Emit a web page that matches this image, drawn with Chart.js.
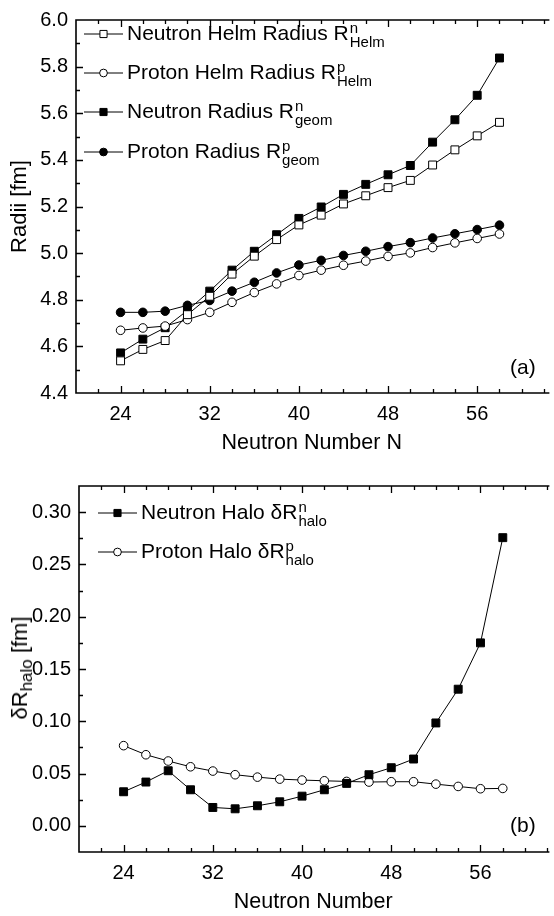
<!DOCTYPE html>
<html>
<head>
<meta charset="utf-8">
<script src="https://cdn.jsdelivr.net/npm/chart.js@4.4.1/dist/chart.umd.min.js"></script>
<style>
  html, body { margin: 0; padding: 0; background: #fff; }
  #wrap { position: relative; width: 554px; height: 916px; overflow: hidden;
          font-family: "Liberation Sans", Arial, sans-serif; color: #000; }
  canvas { position: absolute; left: 0; }
  #cA { top: 0; }
  #cB { top: 460px; }
  .lt { position: absolute; font-size: 21px; line-height: 24px; height: 24px; white-space: nowrap; }
  .ss { display: inline-flex; flex-direction: column; font-size: 15px; line-height: 14px;
        vertical-align: 7px; margin-left: 1px; }
  .yt { position: absolute; font-size: 22px; white-space: nowrap; transform: translate(-50%, -50%) rotate(-90deg); }
  .yt sub { font-size: 17px; vertical-align: -5px; }
  .tag { position: absolute; font-size: 21px; }
</style>
</head>
<body>
<div id="wrap">
  <canvas id="cA" width="554" height="460"></canvas>
  <canvas id="cB" width="554" height="456"></canvas>

  <!-- legend (a) -->
  <div class="lt" style="left:127px; top:21px">Neutron Helm Radius R<span class="ss"><span>n</span><span>Helm</span></span></div>
  <div class="lt" style="left:127px; top:60px">Proton Helm Radius R<span class="ss"><span>p</span><span>Helm</span></span></div>
  <div class="lt" style="left:127px; top:99px">Neutron Radius R<span class="ss"><span>n</span><span>geom</span></span></div>
  <div class="lt" style="left:127px; top:139px">Proton Radius R<span class="ss"><span>p</span><span>geom</span></span></div>
  <div class="tag" style="left:510px; top:355px">(a)</div>

  <!-- legend (b) -->
  <div class="lt" style="left:141px; top:500px">Neutron Halo δR<span class="ss"><span>n</span><span>halo</span></span></div>
  <div class="lt" style="left:141px; top:539px">Proton Halo δR<span class="ss"><span>p</span><span>halo</span></span></div>
  <div class="tag" style="left:510px; top:813px">(b)</div>
  <div class="yt" style="left:22px; top:668px">δR<sub>halo</sub> [fm]</div>
</div>

<script>
// neutron numbers
const N = [24, 26, 28, 30, 32, 34, 36, 38, 40, 42, 44, 46, 48, 50, 52, 54, 56, 58];

// panel (a): radii [fm]
const rnHelm = [4.538, 4.587, 4.625, 4.736, 4.815, 4.910, 4.987, 5.058, 5.121, 5.163, 5.211, 5.246, 5.281, 5.312, 5.378, 5.443, 5.503, 5.561];
const rpHelm = [4.669, 4.679, 4.687, 4.715, 4.746, 4.789, 4.831, 4.868, 4.904, 4.927, 4.948, 4.966, 4.986, 5.001, 5.024, 5.044, 5.063, 5.082];
const rnGeom = [4.572, 4.631, 4.680, 4.754, 4.837, 4.927, 5.008, 5.079, 5.149, 5.198, 5.252, 5.295, 5.336, 5.376, 5.476, 5.572, 5.677, 5.837];
const rpGeom = [4.746, 4.746, 4.751, 4.776, 4.797, 4.837, 4.875, 4.915, 4.949, 4.969, 4.990, 5.008, 5.028, 5.045, 5.065, 5.083, 5.101, 5.120];

// panel (b): halo [fm]
const haloN = [0.0326, 0.0419, 0.0527, 0.0345, 0.0176, 0.0163, 0.0192, 0.0230, 0.0284, 0.0345, 0.0406, 0.0489, 0.0556, 0.0639, 0.0984, 0.1307, 0.1750, 0.2756];
const haloP = [0.0767, 0.0680, 0.0620, 0.0565, 0.0524, 0.0489, 0.0466, 0.0447, 0.0438, 0.0431, 0.0425, 0.0419, 0.0422, 0.0422, 0.0399, 0.0377, 0.0355, 0.0358];

// tick labels
const xTicks = [24, 32, 40, 48, 56];
const yTicksA = [4.4, 4.6, 4.8, 5.0, 5.2, 5.4, 5.6, 5.8, 6.0];
const yTicksB = [0.00, 0.05, 0.10, 0.15, 0.20, 0.25, 0.30];

const FONT = '"Liberation Sans", Arial, sans-serif';

const pts = ys => N.map((n, i) => ({ x: n, y: ys[i] }));

function series(label, ys, style, filled) {
  return {
    label,
    data: pts(ys),
    borderColor: '#000',
    borderWidth: 1,
    tension: 0,
    pointStyle: style,
    pointRadius: style === 'rect' ? 5.6 : 4.3,
    pointBorderWidth: 1,
    pointBorderColor: '#000',
    pointBackgroundColor: filled ? '#000' : '#fff'
  };
}

// frame with inward ticks (left, bottom, top; right side is cut off)
const frame = {
  id: 'frame',
  afterDraw(chart, args, o) {
    const { ctx, chartArea: a, scales: { x, y } } = chart;
    ctx.save();
    ctx.strokeStyle = '#000';
    ctx.lineWidth = 1.6;
    ctx.beginPath();
    ctx.moveTo(a.right + 2, a.top);
    ctx.lineTo(a.left, a.top);
    ctx.lineTo(a.left, a.bottom);
    ctx.lineTo(a.right + 2, a.bottom);
    ctx.stroke();

    ctx.lineWidth = 1.3;
    ctx.beginPath();
    for (let v = x.min + 2; v <= x.max; v += 2) {
      const px = Math.round(x.getPixelForValue(v)) + 0.5;
      const len = xTicks.includes(v) ? 7 : 4;
      ctx.moveTo(px, a.bottom); ctx.lineTo(px, a.bottom - len);
      ctx.moveTo(px, a.top); ctx.lineTo(px, a.top + len);
    }
    const step = o.yMinor;
    for (let k = 1; ; k++) {
      const v = +(o.yStart + k * step).toFixed(4);
      if (v >= y.max - 1e-9) break;
      const py = Math.round(y.getPixelForValue(v)) + 0.5;
      const major = o.yMajor.some(t => Math.abs(t - v) < 1e-6);
      ctx.moveTo(a.left, py); ctx.lineTo(a.left + (major ? 7 : 4), py);
    }
    ctx.stroke();
    ctx.restore();
  }
};

// little line+marker samples for the legend, text is html
const legendMarks = {
  id: 'legendMarks',
  afterDraw(chart, args, o) {
    const ctx = chart.ctx;
    chart.data.datasets.forEach((ds, i) => {
      const y = o.ys[i];
      ctx.save();
      ctx.strokeStyle = '#000';
      ctx.lineWidth = 1;
      ctx.beginPath();
      ctx.moveTo(o.x, y);
      ctx.lineTo(o.x + o.len, y);
      ctx.stroke();
      ctx.fillStyle = ds.pointBackgroundColor;
      Chart.helpers.drawPoint(ctx, { pointStyle: ds.pointStyle, radius: ds.pointRadius * 0.9, borderWidth: 1, rotation: 0 }, o.x + o.len / 2, y);
      ctx.restore();
    });
  }
};

function makeChart(id, cfg) {
  return new Chart(document.getElementById(id), {
    type: 'line',
    data: { datasets: cfg.datasets },
    plugins: [frame, legendMarks],
    options: {
      responsive: false,
      animation: false,
      events: [],
      layout: { padding: { top: cfg.top, right: 0, left: 0, bottom: 0 } },
      plugins: {
        legend: { display: false },
        tooltip: { enabled: false },
        frame: { yMinor: cfg.yMinor, yStart: cfg.yMin, yMajor: cfg.yTicks },
        legendMarks: cfg.legend
      },
      scales: {
        x: {
          type: 'linear',
          min: 20,
          max: cfg.xMax,
          afterBuildTicks: s => { s.ticks = xTicks.map(v => ({ value: v })); },
          afterFit: s => { s.height = cfg.xHeight; },
          grid: { display: false, drawTicks: false },
          border: { display: false },
          ticks: { color: '#000', font: { family: FONT, size: 20 }, padding: 9, maxRotation: 0, autoSkip: false },
          title: { display: true, text: cfg.xTitle, color: '#000', font: { family: FONT, size: 21.5 }, padding: { top: 0, bottom: cfg.xTitlePad } }
        },
        y: {
          min: cfg.yMin,
          max: cfg.yMax,
          afterBuildTicks: s => { s.ticks = cfg.yTicks.map(v => ({ value: v })); },
          afterFit: s => { s.width = cfg.left; },
          grid: { display: false, drawTicks: false },
          border: { display: false },
          ticks: { color: '#000', font: { family: FONT, size: 20 }, padding: 8, callback: cfg.fmt },
          title: { display: !!cfg.yTitle, text: cfg.yTitle, color: '#000', font: { family: FONT, size: 22 }, padding: { top: 7, bottom: 0 } }
        }
      }
    }
  });
}

makeChart('cA', {
  datasets: [
    series('Neutron Helm Radius', rnHelm, 'rect', false),
    series('Proton Helm Radius', rpHelm, 'circle', false),
    series('Neutron Radius', rnGeom, 'rect', true),
    series('Proton Radius', rpGeom, 'circle', true)
  ],
  top: 15, left: 76, xHeight: 67, xMax: 62.3, xTitle: 'Neutron Number N', xTitlePad: 4,
  yMin: 4.4, yMax: 6.0, yTicks: yTicksA, yMinor: 0.1, fmt: v => v.toFixed(1), yTitle: 'Radii [fm]',
  legend: { x: 84, len: 39, ys: [34, 73, 112, 152] }
});

makeChart('cB', {
  datasets: [
    series('Neutron Halo', haloN, 'rect', true),
    series('Proton Halo', haloP, 'circle', false)
  ],
  top: 26, left: 79, xHeight: 64, xMax: 62.0, xTitle: 'Neutron Number', xTitlePad: 1,
  yMin: -0.025, yMax: 0.325, yTicks: yTicksB, yMinor: 0.025, fmt: v => v.toFixed(2), yTitle: '',
  legend: { x: 98, len: 39, ys: [53, 92] }
});
</script>
</body>
</html>
